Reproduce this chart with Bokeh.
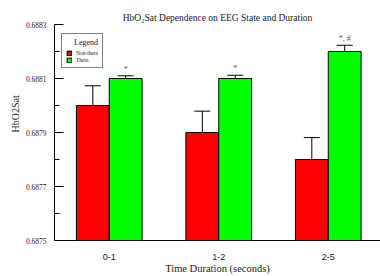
import math
from bokeh.plotting import figure
from bokeh.models import (ColumnDataSource, Range1d, FixedTicker, Whisker, TeeHead,
                          Legend, LegendItem, PrintfTickFormatter, Title)
from bokeh.core.properties import value
from bokeh.embed import file_html
from bokeh.resources import INLINE

categories = ["0-1", "1-2", "2-5"]
nontheta = [0.6880, 0.6879, 0.6878]
nontheta_err = [0.000073, 0.000079, 0.000081]
theta = [0.6881, 0.6881, 0.6882]
theta_err = [0.000010, 0.000012, 0.000023]
markers = ["*", "*", "*, #"]
y_ticks = [0.6875, 0.6877, 0.6879, 0.6881, 0.6883]

SERIF = "Liberation Serif"
SANS = "Liberation Sans"
BW = 0.30

xc = [i + 0.5 for i in range(len(categories))]
red_src = ColumnDataSource(dict(
    x=[c - BW / 2 for c in xc], top=nontheta,
    upper=[v + e for v, e in zip(nontheta, nontheta_err)],
    lower=[v - e for v, e in zip(nontheta, nontheta_err)]))
green_src = ColumnDataSource(dict(
    x=[c + BW / 2 for c in xc], top=theta,
    upper=[v + e for v, e in zip(theta, theta_err)],
    lower=[v - e for v, e in zip(theta, theta_err)],
    txt=markers))

p = figure(width=380, height=276, output_backend="svg", toolbar_location=None,
           x_range=Range1d(0, 326 / 109.5), y_range=Range1d(y_ticks[0], y_ticks[-1]),
           min_border_left=54, min_border_right=0, min_border_top=24, min_border_bottom=32)
p.outline_line_color = None
p.xgrid.grid_line_color = None
p.ygrid.grid_line_color = None
p.background_fill_color = "white"
p.border_fill_color = "white"

p.title.text = "HbO\u2082Sat Dependence on EEG State and Duration"
p.title.align = "center"
p.title.offset = 3
p.title.standoff = 3
p.title.text_font = SERIF
p.title.text_font_size = "9.5px"
p.title.text_font_style = "normal"
p.title.text_color = "#222222"

r1 = p.vbar(x="x", top="top", bottom=y_ticks[0], width=BW, source=red_src,
            fill_color="#FF0000", line_color="black", line_width=1)
r2 = p.vbar(x="x", top="top", bottom=y_ticks[0], width=BW, source=green_src,
            fill_color="#00FF00", line_color="black", line_width=1)

for src in (red_src, green_src):
    w = Whisker(base="x", upper="upper", lower="lower", source=src,
                line_color="black", line_width=1,
                upper_head=TeeHead(size=16, line_color="black", line_width=1),
                lower_head=TeeHead(size=16, line_color="black", line_width=1))
    p.add_layout(w)

p.text(x="x", y="upper", text="txt", source=green_src, text_align="center",
       text_baseline="bottom", y_offset=-2, text_font=value(SERIF),
       text_font_size="8px", text_color="#555555")

# axes
mids = [(a + b) / 2 for a, b in zip(y_ticks[:-1], y_ticks[1:])]
p.yaxis.ticker = FixedTicker(ticks=y_ticks, minor_ticks=mids)
p.yaxis.formatter = PrintfTickFormatter(format="%.4f")
p.yaxis.major_tick_in = 9
p.yaxis.major_tick_out = 0
p.yaxis.minor_tick_in = 5
p.yaxis.minor_tick_out = 0
p.yaxis.major_label_standoff = 8
p.yaxis.major_label_text_font = SERIF
p.yaxis.major_label_text_font_size = "7.5px"
p.yaxis.major_label_text_color = "#222222"
p.yaxis.axis_line_color = "black"
p.yaxis.major_tick_line_color = "black"
p.yaxis.minor_tick_line_color = "black"

# y title, placed in the left panel and nudged above the frame centre
p.add_layout(Title(text="HbO2Sat", align="left", offset=108, standoff=4,
                   text_font=SERIF, text_font_size="10px", text_font_style="normal",
                   text_color="#222222"), "left")

p.xaxis.ticker = FixedTicker(ticks=xc)
p.xaxis.major_label_overrides = {c: lab for c, lab in zip(xc, categories)}
p.xaxis.major_tick_line_color = None
p.xaxis.minor_tick_line_color = None
p.xaxis.major_label_standoff = 7
p.xaxis.major_label_text_font = SANS
p.xaxis.major_label_text_font_size = "9px"
p.xaxis.major_label_text_color = "#222222"
p.xaxis.axis_label = "Time Duration (seconds)"
p.xaxis.axis_label_text_font = SERIF
p.xaxis.axis_label_text_font_size = "10.5px"
p.xaxis.axis_label_text_font_style = "normal"
p.xaxis.axis_label_standoff = 0
p.xaxis.axis_label_text_color = "#222222"
p.xaxis.axis_line_color = "black"

legend = Legend(items=[LegendItem(label="Non-theta", renderers=[r1]),
                       LegendItem(label="Theta", renderers=[r2])],
                location=(7, 172), title="\u00a0\u00a0\u00a0\u00a0Legend",
                title_text_font=SERIF, title_text_font_size="8px",
                title_text_font_style="normal", title_text_color="#222222",
                title_standoff=2,
                label_text_font=SERIF, label_text_font_size="5.5px",
                label_text_color="#222222",
                glyph_width=6, glyph_height=6, label_standoff=4, label_height=7,
                padding=4, spacing=0, margin=0,
                border_line_color="black", border_line_width=1.5,
                background_fill_alpha=1)
p.add_layout(legend)

open("out.html", "w").write(file_html(p, INLINE))
